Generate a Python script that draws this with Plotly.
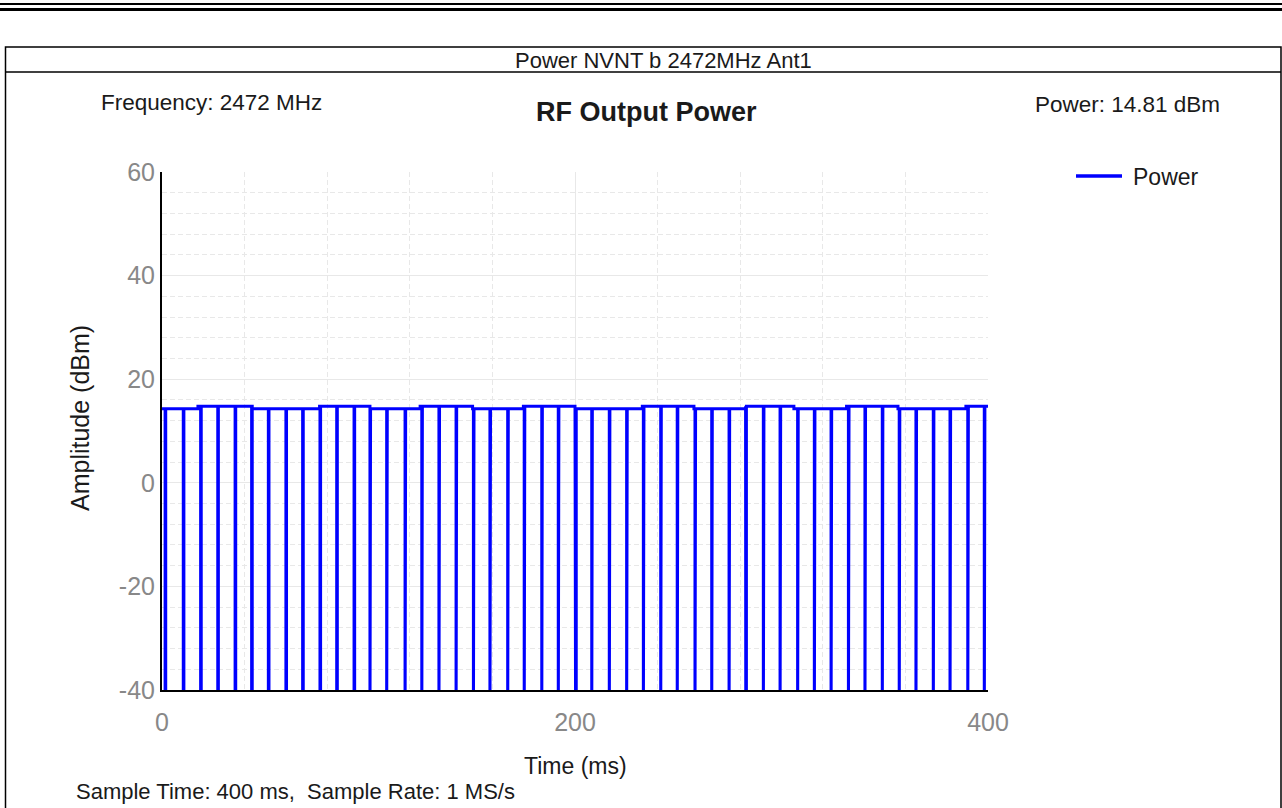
import plotly.graph_objects as go

# Data
dip_times_ms = [1.5, 10.3, 18.7, 27.0, 35.4, 43.4, 51.5, 60.0, 68.1, 76.5, 84.6, 93.0,
                100.7, 108.8, 117.7, 125.8, 134.1, 142.4, 150.8, 158.8, 167.4, 175.4,
                183.9, 191.9, 200.3, 208.1, 216.6, 225.0, 233.1, 241.5, 249.5, 258.1,
                266.2, 274.6, 282.7, 291.2, 299.3, 307.8, 315.9, 324.0, 332.4, 340.4,
                348.8, 357.0, 365.1, 373.5, 381.6, 390.2, 398.2]
segment_edges_ms = [0, 17.4, 43.6, 76.3, 100.7, 125.0, 150.4, 175.0, 200.0, 232.6,
                    257.6, 282.6, 306.0, 331.5, 356.4, 389.3, 400]
segment_levels_dbm = [14.3, 14.8, 14.3, 14.8, 14.3, 14.8, 14.3, 14.8, 14.3, 14.8,
                      14.3, 14.8, 14.3, 14.8, 14.3, 14.8]
off_level_dbm = -50
dip_width_ms = 0.3

x_ticks = [0, 200, 400]
y_ticks = [-40, -20, 0, 20, 40, 60]
y_tick_labels = ['-40', '-20', '0', '20', '40', '60']

W, H = 1282, 808
L, R, T, B = 162, 294, 172, 118
PW, PH = W - L - R, H - T - B


def fx(px):
    return (px - L) / PW


def fy(py):
    return (H - B - py) / PH


# build the trace from the readings
xs, ys = [], []
for i, level in enumerate(segment_levels_dbm):
    a, b = segment_edges_ms[i], segment_edges_ms[i + 1]
    xs.append(a)
    ys.append(level)
    for t in dip_times_ms:
        if a <= t < b:
            xs += [t, t, t + dip_width_ms, t + dip_width_ms]
            ys += [level, off_level_dbm, off_level_dbm, level]
    xs.append(b)
    ys.append(level)

fig = go.Figure()
fig.add_trace(go.Scatter(x=xs, y=ys, mode='lines', name='Power',
                         line=dict(color='#0000FF', width=3), showlegend=False))

font = 'Liberation Sans, Arial, sans-serif'
text_color = '#1a1a1a'
grid_color = '#e8e8e8'
tick_color = '#888888'

fig.update_layout(
    width=W, height=H,
    margin=dict(l=L, r=R, t=T, b=B),
    paper_bgcolor='white', plot_bgcolor='white',
    font=dict(family=font, size=22, color=text_color),
    showlegend=False,
    xaxis=dict(range=[0, 400], tickvals=x_ticks, showgrid=True, gridcolor=grid_color, gridwidth=1,
               minor=dict(dtick=40, showgrid=True, gridcolor=grid_color, griddash='5px,3px'),
               showline=True, linecolor='black', linewidth=2, ticks='', zeroline=False,
               tickfont=dict(size=25, color=tick_color), ticklabelstandoff=9),
    yaxis=dict(range=[-40, 60], tickvals=y_ticks, ticktext=y_tick_labels,
               showgrid=True, gridcolor=grid_color, gridwidth=1,
               minor=dict(dtick=4, showgrid=True, gridcolor=grid_color, griddash='5px,3px'),
               showline=True, linecolor='black', linewidth=2, ticks='', zeroline=False,
               tickfont=dict(size=25, color=tick_color), ticklabelstandoff=0),
)

# page frame: double rule at top, table box with header row
shapes = [
    dict(type='line', x0=fx(0), x1=fx(W), y0=fy(4), y1=fy(4), line=dict(color='black', width=2)),
    dict(type='line', x0=fx(0), x1=fx(W), y0=fy(9.5), y1=fy(9.5), line=dict(color='black', width=3)),
    dict(type='rect', x0=fx(5.5), x1=fx(1281), y0=fy(47), y1=fy(H + 5), line=dict(color='black', width=1.5)),
    dict(type='line', x0=fx(5.5), x1=fx(1281), y0=fy(72), y1=fy(72), line=dict(color='black', width=1.5)),
    # legend sample
    dict(type='line', x0=fx(1076), x1=fx(1122), y0=fy(176), y1=fy(176), line=dict(color='#0000FF', width=3.5)),
]
for s in shapes:
    s.update(xref='paper', yref='paper')
fig.update_layout(shapes=shapes)


def note(text, px, py, size=22, xanchor='left', bold=False, angle=0):
    fig.add_annotation(text=f'<b>{text}</b>' if bold else text, x=fx(px), y=fy(py),
                       xref='paper', yref='paper', xanchor=xanchor, yanchor='middle',
                       showarrow=False, textangle=angle,
                       font=dict(family=font, size=size, color=text_color))


note('Power NVNT b 2472MHz Ant1', 663, 60, size=22, xanchor='center')
note('Frequency: 2472 MHz', 99, 102, size=22.5)
note('RF Output Power', 646, 112, size=27, xanchor='center', bold=True)
note('Power: 14.81 dBm', 1222, 104, size=22.5, xanchor='right')
note('Power', 1131, 177, size=23)
note('Amplitude (dBm)', 80, 418, size=25, xanchor='center', angle=-90)
note('Time (ms)', 575, 766, size=23, xanchor='center')
note('Sample Time: 400 ms,  Sample Rate: 1 MS/s', 74, 791, size=22)

# drop the default page margin so the figure sits at the window origin
fig.write_html("out.html", config={'displayModeBar': False},
               post_script="document.body.style.margin='0';")
